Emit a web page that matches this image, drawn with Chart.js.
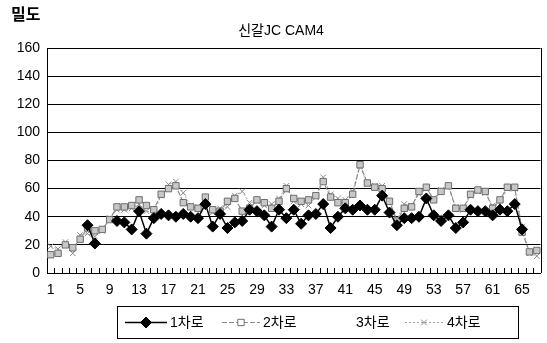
<!DOCTYPE html>
<html>
<head>
<meta charset="utf-8">
<script src="https://cdn.jsdelivr.net/npm/chart.js"></script>
<style>
  body { margin: 0; background: #fff; }
</style>
</head>
<body>
<canvas id="chart" width="547" height="343"></canvas>
<script>
  // categories (time slots)
  const slots = ['1','2','3','4','5','6','7','8','9','10','11','12','13','14','15','16','17','18','19','20',
    '21','22','23','24','25','26','27','28','29','30','31','32','33','34','35','36','37','38','39','40',
    '41','42','43','44','45','46','47','48','49','50','51','52','53','54','55','56','57','58','59','60',
    '61','62','63','64','65','66','67'];

  // density per lane
  const lane1 = [null, null, null, null, null, 34, 21, null, null, 37,
    36, 31, 44, 28, 39, 42, 41, 40, 42, 40,
    39, 49, 33, 42, 32, 36, 37, 45, 44, 41,
    33, 45, 39, 45, 35, 41, 42, 49, 32, 40,
    46, 45, 48, 45, 45, 55, 43, 34, 39, 39,
    40, 53, 41, 37, 41, 32, 36, 45, 44, 44,
    41, 45, 44, 49, 31, null, null];
  const lane2 = [13, 14, 20, 18, 24, 32, 30, 31, 38, 47,
    47, 48, 52, 48, 45, 56, 60, 62, 50, 47,
    46, 54, 45, 44, 51, 53, 44, 46, 52, 50,
    46, 51, 60, 53, 51, 52, 55, 65, 54, 50,
    50, 56, 77, 64, 61, 60, 51, 37, 46, 47,
    58, 61, 52, 58, 62, 46, 46, 56, 59, 58,
    46, 52, 61, 61, 29, 15, 16];
  const lane3 = [];
  const lane4 = [19, 17, 22, 14, 27, 28, 26, 30, 39, 45,
    45, 46, 49, 44, 43, 55, 63, 65, 57, 48,
    47, 52, 43, 46, 47, 55, 58, 50, 51, 48,
    49, 53, 62, 51, 49, 48, 54, 68, 56, 53,
    52, 58, 76, 63, 62, 62, 50, 38, 49, 48,
    56, 60, 53, 59, 62, 47, 45, 55, 58, 57,
    48, 49, 60, 60, 33, 14, 12];

  const yTicks = [0, 20, 40, 60, 80, 100, 120, 140, 160];

  const FONT = '"Liberation Sans", "Noto Sans CJK KR", sans-serif';

  const decor = {
    id: 'decor',
    afterDraw(chart) {
      const ctx = chart.ctx;
      const xs = chart.scales.x;
      const area = chart.chartArea;
      ctx.save();

      // inner tick marks between categories
      ctx.strokeStyle = '#000';
      ctx.lineWidth = 1;
      ctx.beginPath();
      for (let i = 0; i <= slots.length; i++) {
        const px = Math.round(xs.getPixelForValue(i - 0.5)) + 0.5;
        ctx.moveTo(px, area.bottom);
        ctx.lineTo(px, area.bottom - 5);
      }
      // right border of the plot
      ctx.moveTo(Math.round(area.right) + 0.5, area.top);
      ctx.lineTo(Math.round(area.right) + 0.5, area.bottom);
      ctx.stroke();

      // axis name and title
      ctx.fillStyle = '#000';
      ctx.textBaseline = 'middle';
      ctx.font = 'bold 16px ' + FONT;
      ctx.textAlign = 'left';
      ctx.fillText('밀도', 11, 16);
      ctx.font = '14px ' + FONT;
      ctx.textAlign = 'center';
      ctx.fillText('신갈JC CAM4', 281, 31);

      // legend box
      ctx.strokeRect(117.5, 306.5, 401, 32);
      const spots = [[125, 167, 170], [222, 260, 263], [315, 352, 356], [405, 443, 447]];
      ctx.textAlign = 'left';
      ctx.font = '14px ' + FONT;
      chart.data.datasets.forEach((ds, i) => {
        const [a, b, t] = spots[i];
        if (ds.label !== '3차로') {
          ctx.save();
          ctx.strokeStyle = ds.borderColor;
          ctx.lineWidth = ds.borderWidth;
          ctx.setLineDash(ds.borderDash || []);
          ctx.beginPath();
          ctx.moveTo(a, 322.5);
          ctx.lineTo(b, 322.5);
          ctx.stroke();
          ctx.setLineDash([]);
          ctx.fillStyle = ds.label === '2차로' ? '#fff' : ds.backgroundColor;
          ctx.strokeStyle = ds.pointBorderColor || ds.borderColor;
          ctx.lineWidth = 1;
          Chart.helpers.drawPoint(ctx, {
            pointStyle: ds.pointStyle,
            radius: ds.pointRadius,
            rotation: 0,
            borderWidth: 1
          }, (a + b) / 2, 322.5);
          ctx.restore();
        }
        ctx.fillStyle = '#000';
        ctx.fillText(ds.label, t, 323);
      });
      ctx.restore();
    }
  };

  new Chart(document.getElementById('chart'), {
    type: 'line',
    data: {
      labels: slots,
      datasets: [{
        label: '1차로',
        data: lane1,
        borderColor: '#000',
        backgroundColor: '#000',
        borderWidth: 1.5,
        pointStyle: 'rectRot',
        pointRadius: 5.5,
        pointBorderWidth: 1
      }, {
        label: '2차로',
        data: lane2,
        borderColor: '#8c8c8c',
        backgroundColor: '#c8c8c8',
        pointBorderColor: '#6e6e6e',
        borderWidth: 1.2,
        borderDash: [5, 2],
        pointStyle: 'rect',
        pointRadius: 4.5,
        pointBorderWidth: 1
      }, {
        label: '3차로',
        data: lane3,
        borderColor: '#ffffff',
        backgroundColor: '#ffffff',
        borderWidth: 1,
        pointRadius: 0
      }, {
        label: '4차로',
        data: lane4,
        borderColor: '#a6a6a6',
        backgroundColor: '#a6a6a6',
        pointBorderColor: '#8a8a8a',
        borderWidth: 1,
        borderDash: [2, 2],
        pointStyle: 'crossRot',
        pointRadius: 4,
        pointBorderWidth: 1
      }]
    },
    options: {
      responsive: false,
      animation: false,
      layout: { padding: { top: 48, right: 4, left: 0, bottom: 0 } },
      plugins: {
        legend: { display: false },
        title: { display: false },
        tooltip: { enabled: false }
      },
      scales: {
        x: {
          offset: true,
          grid: { display: false, drawTicks: false },
          border: { color: '#000', width: 1 },
          ticks: {
            autoSkip: false,
            maxRotation: 0,
            padding: 9,
            color: '#000',
            font: { size: 14, family: FONT },
            callback: function (v, i) { return i % 4 === 0 ? this.getLabelForValue(v) : ''; }
          },
          afterFit: (s) => { s.height = 70; }
        },
        y: {
          min: yTicks[0],
          max: yTicks[yTicks.length - 1],
          afterBuildTicks: (s) => { s.ticks = yTicks.map(v => ({ value: v })); },
          grid: { color: '#000', lineWidth: 1, drawTicks: false },
          border: { color: '#000', width: 1 },
          ticks: { padding: 7, color: '#000', font: { size: 14, family: FONT } },
          afterFit: (s) => { s.width = 47; }
        }
      }
    },
    plugins: [decor]
  });
</script>
</body>
</html>
